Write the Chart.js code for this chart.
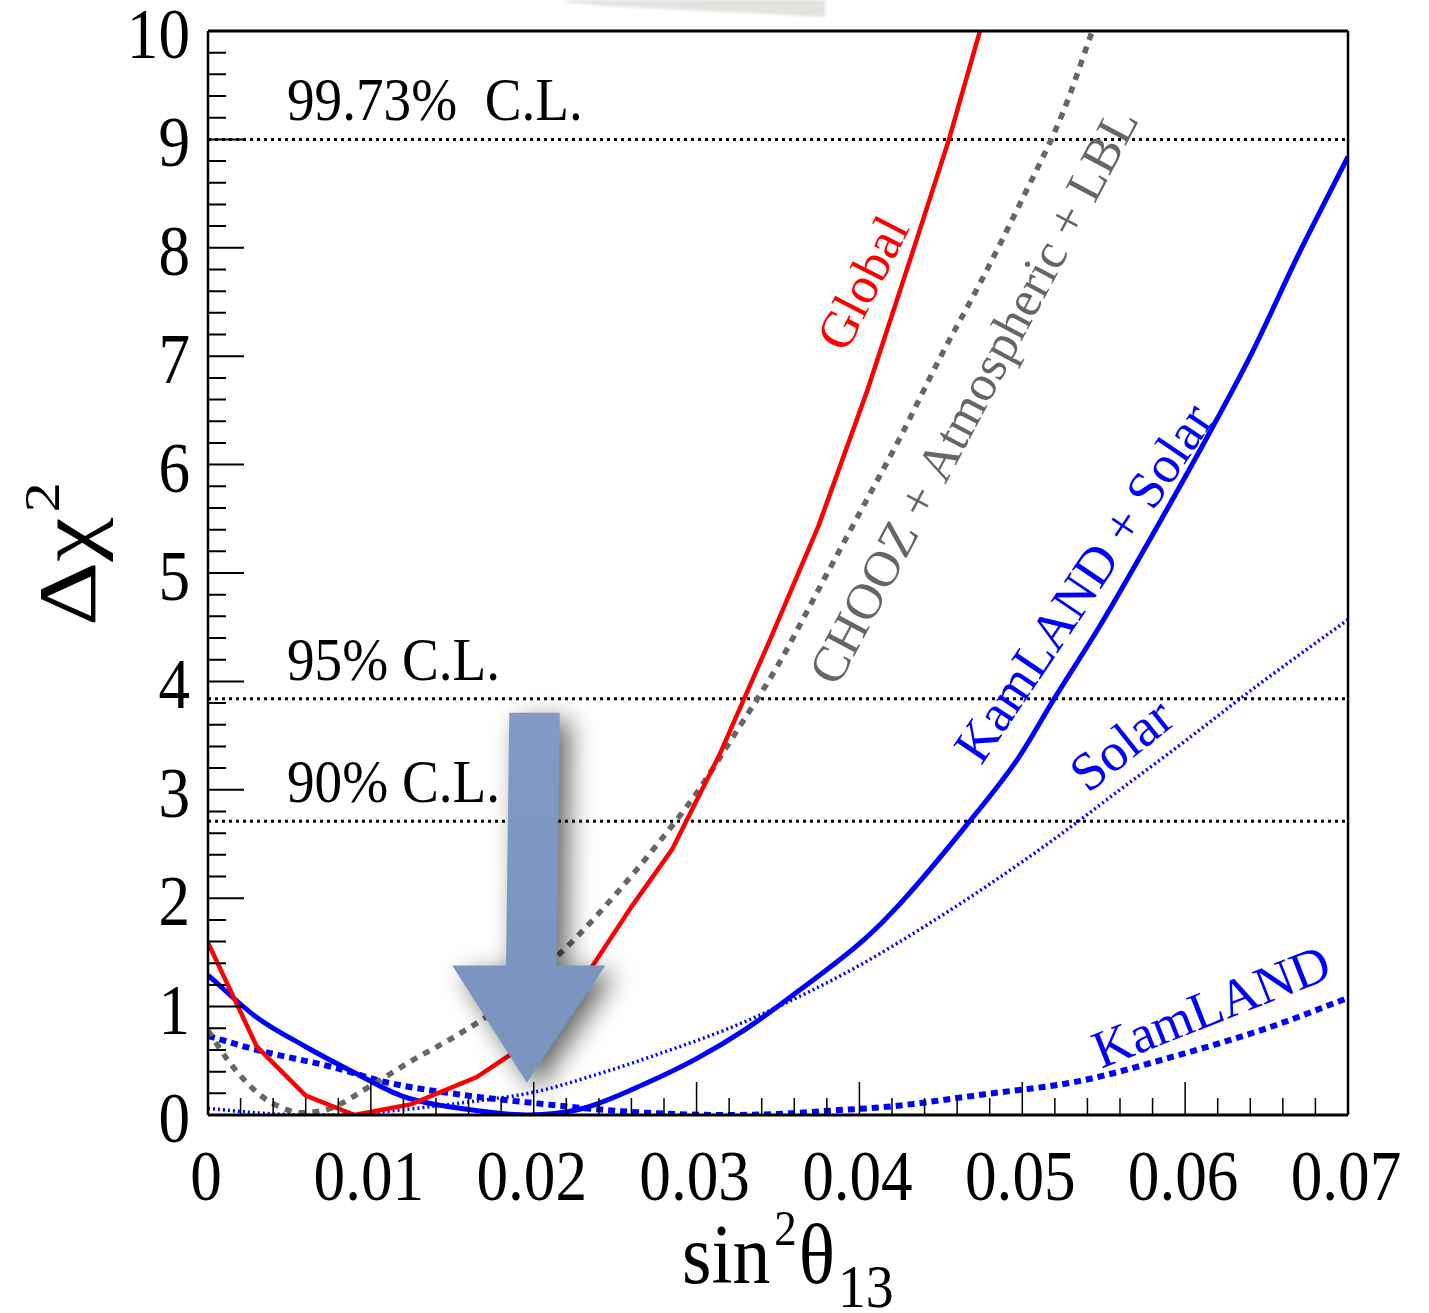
<!DOCTYPE html>
<html>
<head>
<meta charset="utf-8">
<script src="https://cdn.jsdelivr.net/npm/chart.js@4.4.1/dist/chart.umd.min.js"></script>
<style>
  html, body { margin: 0; padding: 0; background: #ffffff; }
  #wrap { width: 1429px; height: 1313px; position: relative; }
  canvas { display: block; }
</style>
</head>
<body>
<div id="wrap"><canvas id="c" width="1429" height="1313"></canvas></div>
<script>
// ---- Δχ² profiles versus sin²θ13 ----
const globalX   = [0, 0.003, 0.006, 0.009, 0.0125, 0.0165, 0.0185, 0.021, 0.0235, 0.026, 0.0285, 0.0314, 0.0345, 0.0375, 0.0405, 0.0432, 0.0455, 0.0474];
const globalChi = [1.59, 0.63, 0.18, 0.0, 0.10, 0.35, 0.55, 0.92, 1.35, 1.92, 2.45, 3.32, 4.38, 5.44, 6.69, 7.93, 9.0, 10.0];

const choozX   = [0, 0.0012, 0.0025, 0.0036, 0.005, 0.0056, 0.0075, 0.01, 0.0125, 0.015, 0.0175, 0.02, 0.0225, 0.025, 0.0275, 0.03, 0.0325, 0.035, 0.0375, 0.04, 0.0425, 0.045, 0.0475, 0.05, 0.0525, 0.0543];
const choozChi = [0.78, 0.51, 0.28, 0.14, 0.04, 0.02, 0.06, 0.27, 0.50, 0.71, 0.95, 1.27, 1.62, 2.03, 2.48, 2.97, 3.55, 4.15, 4.85, 5.55, 6.25, 7.0, 7.7, 8.45, 9.25, 10.0];

const klSolarX   = [0, 0.003, 0.006, 0.009, 0.012, 0.016, 0.0196, 0.023, 0.027, 0.03, 0.033, 0.0364, 0.0403, 0.0425, 0.0465, 0.0497, 0.052, 0.0548, 0.0578, 0.0609, 0.064, 0.067, 0.07];
const klSolarChi = [1.29, 0.90, 0.63, 0.39, 0.17, 0.05, 0.0, 0.06, 0.30, 0.52, 0.79, 1.16, 1.62, 1.95, 2.66, 3.28, 3.85, 4.52, 5.30, 6.13, 7.0, 7.95, 8.84];

const kamlandX   = [0, 0.003, 0.0077, 0.011, 0.0159, 0.02, 0.0241, 0.027, 0.0314, 0.035, 0.0382, 0.042, 0.0476, 0.0534, 0.0593, 0.0652, 0.07];
const kamlandChi = [0.73, 0.60, 0.44, 0.30, 0.18, 0.11, 0.05, 0.02, 0.0, 0.01, 0.04, 0.08, 0.19, 0.31, 0.54, 0.81, 1.08];

const solarX   = [0, 0.004, 0.0077, 0.012, 0.016, 0.02, 0.024, 0.028, 0.032, 0.036, 0.04, 0.044, 0.048, 0.052, 0.056, 0.06, 0.0646, 0.07];
const solarChi = [0.06, 0.01, 0.0, 0.05, 0.12, 0.21, 0.38, 0.58, 0.80, 1.07, 1.38, 1.74, 2.13, 2.55, 3.00, 3.45, 3.98, 4.57];

// confidence-level reference lines
const clLevels = [2.71, 3.84, 9.0];
const clLabels = ['90% C.L.', '95% C.L.', '99.73%  C.L.'];

// axes
const xTicks = [0, 0.01, 0.02, 0.03, 0.04, 0.05, 0.06, 0.07];
const xTickLabels = ['0', '0.01', '0.02', '0.03', '0.04', '0.05', '0.06', '0.07'];
const yTicks = [0, 1, 2, 3, 4, 5, 6, 7, 8, 9, 10];
const yTickLabels = ['0', '1', '2', '3', '4', '5', '6', '7', '8', '9', '10'];

// curve captions: text, anchor (data units), angle (deg), colour, size
const curveLabels = [
  { text: 'Global', x: 0.04040, y: 7.66, angle: -63, color: '#ff0000', size: 52 },
  { text: 'CHOOZ + Atmospheric + LBL', x: 0.04720, y: 6.62, angle: -62, color: '#666666', size: 51 },
  { text: 'KamLAND + Solar', x: 0.05396, y: 4.89, angle: -56, color: '#0000ff', size: 53 },
  { text: 'Solar', x: 0.05623, y: 3.39, angle: -38.5, color: '#0000ff', size: 54 },
  { text: 'KamLAND', x: 0.06169, y: 0.97, angle: -21.5, color: '#0000ff', size: 53 }
];

const SERIF = '"Liberation Serif", "DejaVu Serif", "Times New Roman", serif';

function pts(xs, ys) { return xs.map((x, i) => ({ x: x, y: ys[i] })); }

function drawText(ctx, s, x, y, size, o) {
  o = o || {};
  ctx.save();
  ctx.translate(x, y);
  if (o.rot) ctx.rotate(o.rot);
  ctx.scale(o.sx || 1, 1);
  ctx.font = size + 'px ' + SERIF;
  ctx.fillStyle = o.color || '#000';
  ctx.textAlign = o.align || 'left';
  ctx.textBaseline = o.baseline || 'alphabetic';
  ctx.fillText(s, 0, 0);
  ctx.restore();
}
function textW(ctx, s, size) {
  ctx.save();
  ctx.font = size + 'px ' + SERIF;
  const w = ctx.measureText(s).width;
  ctx.restore();
  return w;
}

// down-pointing marker arrow, in data units
const arrowShape = {
  tip: [0.01958, 0.30],
  headY: 1.38, headL: 0.0150, headR: 0.0244,
  shaftTopY: 3.71,
  shaftTopL: 0.0185, shaftTopR: 0.0216,
  shaftBotL: 0.0183, shaftBotR: 0.0214
};

const framePlugin = {
  id: 'frame',
  afterDatasetsDraw(chart) {
    const ctx = chart.ctx;
    const a = chart.chartArea;
    const xs = chart.scales.x, ys = chart.scales.y;

    // arrow
    const P = (vx, vy) => [xs.getPixelForValue(vx), ys.getPixelForValue(vy)];
    const A = arrowShape;
    const poly = [
      P(A.shaftTopL, A.shaftTopY), P(A.shaftTopR, A.shaftTopY),
      P(A.shaftBotR, A.headY), P(A.headR, A.headY),
      P(A.tip[0], A.tip[1]),
      P(A.headL, A.headY), P(A.shaftBotL, A.headY)
    ];
    ctx.save();
    ctx.shadowColor = 'rgba(0,0,0,0.6)';
    ctx.shadowBlur = 26;
    ctx.shadowOffsetX = 10;
    ctx.shadowOffsetY = 8;
    ctx.beginPath();
    poly.forEach((p, i) => i ? ctx.lineTo(p[0], p[1]) : ctx.moveTo(p[0], p[1]));
    ctx.closePath();
    const g = ctx.createLinearGradient(poly[0][0], poly[0][1], poly[4][0], poly[4][1]);
    g.addColorStop(0, '#819bc5');
    g.addColorStop(0.5, '#7c96c1');
    g.addColorStop(1, '#7a94bf');
    ctx.fillStyle = g;
    ctx.fill();
    ctx.restore();

    // frame
    ctx.save();
    ctx.strokeStyle = '#000';
    ctx.lineWidth = 3;
    ctx.beginPath();
    ctx.moveTo(a.left, a.top); ctx.lineTo(a.right, a.top);
    ctx.moveTo(a.left, a.bottom); ctx.lineTo(a.right, a.bottom);
    ctx.stroke();
    ctx.lineWidth = 2.5;
    ctx.beginPath();
    ctx.moveTo(a.left, a.top); ctx.lineTo(a.left, a.bottom);
    ctx.moveTo(a.right, a.top); ctx.lineTo(a.right, a.bottom);
    ctx.stroke();

    // ticks pointing inward
    ctx.lineWidth = 2;
    ctx.beginPath();
    for (let i = 1; i < 50; i++) {
      const yp = ys.getPixelForValue(i * 0.2);
      const len = (i % 5 === 0) ? 36 : 18;
      ctx.moveTo(a.left, yp); ctx.lineTo(a.left + len, yp);
    }
    ctx.stroke();
    ctx.lineWidth = 1.5;
    ctx.beginPath();
    for (let i = 1; i < 35; i++) {
      const xp = xs.getPixelForValue(i * 0.002);
      const len = (i % 5 === 0) ? 33 : 17;
      ctx.moveTo(xp, a.bottom); ctx.lineTo(xp, a.bottom - len);
    }
    ctx.stroke();
    ctx.restore();
  },
  afterDraw(chart) {
    const ctx = chart.ctx;
    const a = chart.chartArea;
    const xs = chart.scales.x, ys = chart.scales.y;
    const SX = 0.89;

    // tick labels
    yTicks.forEach((v, i) => {
      drawText(ctx, yTickLabels[i], a.left - 18, ys.getPixelForValue(v) + 27, 71, { align: 'right', sx: SX });
    });
    xTicks.forEach((v, i) => {
      drawText(ctx, xTickLabels[i], xs.getPixelForValue(v) - 2, a.bottom + 85, 71, { align: 'center', sx: SX });
    });

    // confidence-level captions
    clLevels.forEach((lv, i) => {
      drawText(ctx, clLabels[i], xs.getPixelForValue(0.00485), ys.getPixelForValue(lv) - 19, 62, { sx: SX });
    });

    // curve captions
    curveLabels.forEach(l => {
      drawText(ctx, l.text, xs.getPixelForValue(l.x), ys.getPixelForValue(l.y), l.size,
        { rot: l.angle * Math.PI / 180, color: l.color, align: 'center', baseline: 'middle' });
    });

    // y title: Δχ²
    ctx.save();
    ctx.translate(95, 626);
    ctx.rotate(-Math.PI / 2);
    ctx.scale(1.22, 1);
    ctx.font = '82px ' + SERIF;
    ctx.fillStyle = '#000';
    ctx.textBaseline = 'alphabetic';
    ctx.fillText('Δχ', 0, 0);
    const wdc = ctx.measureText('Δχ').width;
    ctx.font = '50px ' + SERIF;
    ctx.fillText('2', wdc + 4, -36);
    ctx.restore();

    // x title: sin²θ13
    let cx = 682;
    const base = 1283;
    drawText(ctx, 'sin', cx, base, 84, { sx: 0.9 });
    cx += textW(ctx, 'sin', 84) * 0.9 + 4;
    drawText(ctx, '2', cx, base - 38, 50, { sx: 0.9 });
    cx += textW(ctx, '2', 50) * 0.9 + 2;
    drawText(ctx, 'θ', cx, base, 84, { sx: 0.9 });
    cx += textW(ctx, 'θ', 84) * 0.9 + 3;
    drawText(ctx, '13', cx, base + 24, 62, { sx: 0.9 });

    // faint grey smudge above the frame
    ctx.save();
    ctx.filter = 'blur(1.5px)';
    ctx.fillStyle = '#e3e3e0';
    const sx0 = xs.getPixelForValue(0.0219), sx1 = xs.getPixelForValue(0.0379);
    ctx.beginPath();
    ctx.moveTo(sx0, 0); ctx.lineTo(sx1, 0); ctx.lineTo(sx1, 17);
    ctx.lineTo(sx0 + 40, 6); ctx.lineTo(sx0, 2);
    ctx.closePath();
    ctx.fill();
    ctx.restore();
  }
};

const clDatasets = clLevels.map(lv => ({
  data: [{ x: 0, y: lv }, { x: 0.07, y: lv }],
  borderColor: '#000000',
  borderWidth: 3,
  borderDash: [3, 4],
  pointRadius: 0,
  showLine: true
}));

new Chart(document.getElementById('c').getContext('2d'), {
  type: 'scatter',
  data: {
    datasets: [
      { data: pts(globalX, globalChi), borderColor: '#ff0000', borderWidth: 4.5, pointRadius: 0, showLine: true, tension: 0 },
      { data: pts(klSolarX, klSolarChi), borderColor: '#0000ff', borderWidth: 5, pointRadius: 0, showLine: true, cubicInterpolationMode: 'monotone' },
      { data: pts(choozX, choozChi), borderColor: '#666666', borderWidth: 5.5, borderDash: [7, 7], pointRadius: 0, showLine: true, cubicInterpolationMode: 'monotone' },
      { data: pts(kamlandX, kamlandChi), borderColor: '#0000ff', borderWidth: 6, borderDash: [7, 5], pointRadius: 0, showLine: true, cubicInterpolationMode: 'monotone' },
      { data: pts(solarX, solarChi), borderColor: '#0000ff', borderWidth: 3.5, borderDash: [2, 3], pointRadius: 0, showLine: true, cubicInterpolationMode: 'monotone' },
      ...clDatasets
    ]
  },
  options: {
    responsive: false,
    animation: false,
    devicePixelRatio: 1,
    layout: { padding: { top: 31, right: 81, left: 0, bottom: 0 } },
    plugins: { legend: { display: false }, tooltip: { enabled: false } },
    scales: {
      x: {
        type: 'linear', min: 0, max: 0.07,
        ticks: { stepSize: 0.01, display: false },
        grid: { display: false }, border: { display: false },
        afterFit(s) { s.height = 198; }
      },
      y: {
        type: 'linear', min: 0, max: 10,
        ticks: { stepSize: 1, display: false },
        grid: { display: false }, border: { display: false },
        afterFit(s) { s.width = 208; }
      }
    }
  },
  plugins: [framePlugin]
});
</script>
</body>
</html>
